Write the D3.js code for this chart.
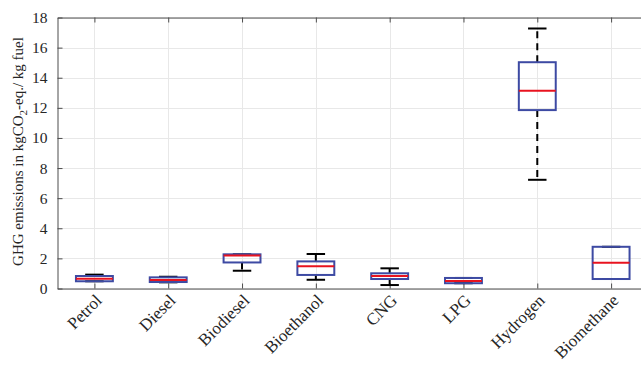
<!DOCTYPE html>
<html>
<head>
<meta charset="utf-8">
<script src="https://cdn.jsdelivr.net/npm/d3@7"></script>
<style>
  html, body { margin: 0; padding: 0; background: #fff; }
  svg { display: block; }
  text { font-family: "Liberation Serif", "DejaVu Serif", serif; fill: #262626; }
</style>
</head>
<body>
<div id="chart"></div>
<script>
// GHG emissions per kg of fuel: box statistics for each fuel
const categories = ["Petrol", "Diesel", "Biodiesel", "Bioethanol", "CNG", "LPG", "Hydrogen", "Biomethane"];
const lowerWhisker = [0.48, 0.41, 1.18, 0.58, 0.23, 0.35, 7.22, 0.63];
const quartile1    = [0.48, 0.43, 1.73, 0.90, 0.63, 0.35, 11.85, 0.63];
const medians      = [0.65, 0.56, 2.20, 1.47, 0.83, 0.50, 13.13, 1.71];
const quartile3    = [0.83, 0.74, 2.27, 1.80, 1.01, 0.70, 15.03, 2.77];
const upperWhisker = [0.92, 0.78, 2.27, 2.29, 1.34, 0.70, 17.27, 2.77];
const yTicks = [0, 2, 4, 6, 8, 10, 12, 14, 16, 18];

const W = 641, H = 365;
const margin = { left: 57.5, top: 17.5, bottom: 77 };
// the axes box runs past the right edge of the page
const plotRight = 648;
const plotBottom = H - margin.bottom + 0.5;

const svg = d3.select("#chart").append("svg")
  .attr("width", W).attr("height", H);

const x = d3.scaleLinear().domain([0.5, categories.length + 0.5]).range([margin.left, plotRight]);
const y = d3.scaleLinear().domain([0, 18]).range([plotBottom, margin.top]);

const idx = d3.range(categories.length);

// grid
const grid = svg.append("g").attr("stroke", "#e8e8e8").attr("stroke-width", 1);
grid.selectAll(".gy").data(yTicks).join("line")
  .attr("x1", margin.left).attr("x2", plotRight)
  .attr("y1", d => Math.round(y(d)) + 0.5).attr("y2", d => Math.round(y(d)) + 0.5);
grid.selectAll(".gx").data(idx).join("line")
  .attr("x1", i => Math.round(x(i + 1)) + 0.5).attr("x2", i => Math.round(x(i + 1)) + 0.5)
  .attr("y1", margin.top).attr("y2", plotBottom);

// y axis
const yAxis = d3.axisLeft(y).tickValues(yTicks).tickSizeInner(-5).tickSizeOuter(0).tickPadding(10);
const gy = svg.append("g").attr("transform", `translate(${margin.left},0)`).call(yAxis);
gy.select(".domain").attr("stroke", "#4d4d4d");
gy.selectAll(".tick line").attr("stroke", "#4d4d4d");
gy.selectAll(".tick text").attr("font-size", 15.5).attr("fill", "#262626");

// x axis (bottom), labels slanted at 45 degrees
const xAxis = d3.axisBottom(x).tickValues(idx.map(i => i + 1)).tickFormat(d => categories[d - 1])
  .tickSizeInner(-5).tickSizeOuter(0);
const gx = svg.append("g").attr("transform", `translate(0,${plotBottom})`).call(xAxis);
gx.select(".domain").attr("stroke", "#4d4d4d");
gx.selectAll(".tick line").attr("stroke", "#4d4d4d");
gx.selectAll(".tick text")
  .attr("font-size", 17).attr("fill", "#262626")
  .attr("text-anchor", "end")
  .attr("dy", 0).attr("y", 0).attr("x", 0)
  .attr("transform", "translate(8,13) rotate(-45)");

// top edge with ticks
const xTop = d3.axisTop(x).tickValues(idx.map(i => i + 1)).tickFormat("").tickSizeInner(-5).tickSizeOuter(0);
const gt = svg.append("g").attr("transform", `translate(0,${margin.top})`).call(xTop);
gt.select(".domain").attr("stroke", "#4d4d4d");
gt.selectAll(".tick line").attr("stroke", "#4d4d4d");

// boxes
const boxHalf = (x(1.25) - x(1));
const capHalf = (x(1.125) - x(1));
const boxes = svg.append("g");
const g = boxes.selectAll("g").data(idx).join("g");

// whiskers
g.append("line")
  .attr("x1", i => x(i + 1)).attr("x2", i => x(i + 1))
  .attr("y1", i => y(quartile3[i])).attr("y2", i => y(upperWhisker[i]))
  .attr("stroke", "#000").attr("stroke-width", 2).attr("stroke-dasharray", "7,5");
g.append("line")
  .attr("x1", i => x(i + 1)).attr("x2", i => x(i + 1))
  .attr("y1", i => y(quartile1[i])).attr("y2", i => y(lowerWhisker[i]))
  .attr("stroke", "#000").attr("stroke-width", 2).attr("stroke-dasharray", "7,5");
// caps
g.append("line")
  .attr("x1", i => x(i + 1) - capHalf).attr("x2", i => x(i + 1) + capHalf)
  .attr("y1", i => y(upperWhisker[i])).attr("y2", i => y(upperWhisker[i]))
  .attr("stroke", "#000").attr("stroke-width", 2);
g.append("line")
  .attr("x1", i => x(i + 1) - capHalf).attr("x2", i => x(i + 1) + capHalf)
  .attr("y1", i => y(lowerWhisker[i])).attr("y2", i => y(lowerWhisker[i]))
  .attr("stroke", "#000").attr("stroke-width", 2);
// box
g.append("rect")
  .attr("x", i => x(i + 1) - boxHalf).attr("width", 2 * boxHalf)
  .attr("y", i => y(quartile3[i])).attr("height", i => y(quartile1[i]) - y(quartile3[i]))
  .attr("fill", "none").attr("stroke", "#3d4aa3").attr("stroke-width", 2);
// median
g.append("line")
  .attr("x1", i => x(i + 1) - boxHalf).attr("x2", i => x(i + 1) + boxHalf)
  .attr("y1", i => y(medians[i])).attr("y2", i => y(medians[i]))
  .attr("stroke", "#e8131f").attr("stroke-width", 2);

// y label
const yl = svg.append("text")
  .attr("transform", "translate(22.5,151.5) rotate(-90)")
  .attr("text-anchor", "middle").attr("font-size", 15);
yl.append("tspan").text("GHG emissions in kgCO");
yl.append("tspan").attr("font-size", 11).attr("dy", 4).text("2");
yl.append("tspan").attr("dy", -4).text("-eq./ kg fuel");
</script>
</body>
</html>
